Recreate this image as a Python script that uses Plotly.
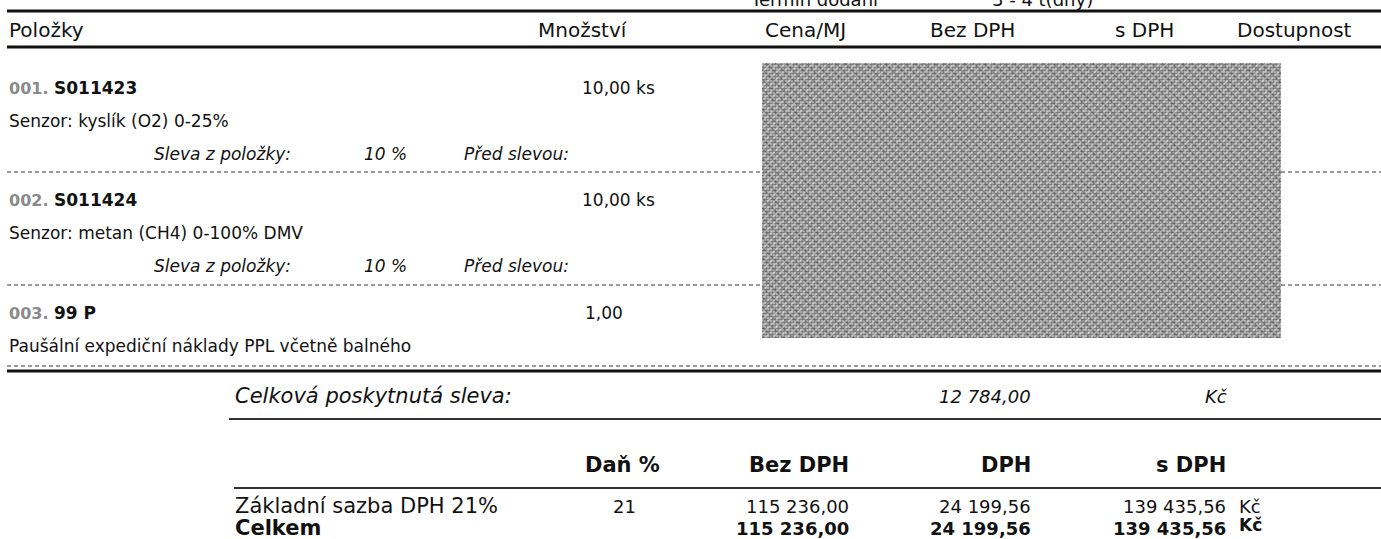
import plotly.graph_objects as go

# ---------------- data ----------------
header_cols = ["Položky", "Množství", "Cena/MJ", "Bez DPH", "s DPH", "Dostupnost"]
delivery_label = "Termín dodání"
delivery_value = "3 - 4 t(dny)"

item_nums = ["001.", "002.", "003."]
item_codes = ["S011423", "S011424", "99 P"]
item_qty = [10.00, 10.00, 1.00]
item_units = ["ks", "ks", ""]
item_desc = ["Senzor: kyslík (O2) 0-25%",
             "Senzor: metan (CH4) 0-100% DMV",
             "Paušální expediční náklady PPL včetně balného"]
item_discount_pct = [10, 10, None]

total_discount = 12784.00
currency = "Kč"

vat_headers = ["Daň %", "Bez DPH", "DPH", "s DPH"]
vat_label = "Základní sazba DPH 21%"
vat_rate = 21
vat_base = [115236.00]
vat_tax = [24199.56]
vat_total = [139435.56]
sum_label = "Celkem"


def czk(v):
    s = f"{v:,.2f}"
    return s.replace(",", " ").replace(".", ",")


# ---------------- layout constants ----------------
W, H = 1381, 539
FONT = "DejaVu Sans"
BLACK = "#111111"
GRAY = "#8a8a8a"

fig = go.Figure()
ann = []
shapes = []


def text(x, y, t, size=17, anchor="left", bold=False, italic=False, color=BLACK, yanchor="middle"):
    s = t
    if bold:
        s = f"<b>{s}</b>"
    if italic:
        s = f"<i>{s}</i>"
    ann.append(dict(x=x, y=y, xref="x", yref="y", text=s, showarrow=False,
                    xanchor=anchor, yanchor=yanchor,
                    font=dict(family=FONT, size=size, color=color)))


def hline(x0, x1, y, width=1, color=BLACK, dash="solid"):
    shapes.append(dict(type="line", xref="x", yref="y", x0=x0, x1=x1, y0=y, y1=y,
                       line=dict(color=color, width=width, dash=dash), layer="below"))


# top partially visible text
text(748, 12, delivery_label, size=18, yanchor="bottom")
text(990, 12, delivery_value, size=18, yanchor="bottom")

# header
hline(7, W, 11, width=3)
hline(7, W, 47, width=3)
head_x = [7, 583, 805, 972, 1144, 1294]
head_anchor = ["left", "center", "center", "center", "center", "center"]
for t, x, a in zip(header_cols, head_x, head_anchor):
    text(x, 30, t, size=20, anchor=a)

# items
row_y = [88, 200, 313]
for i in range(len(item_codes)):
    y = row_y[i]
    text(7, y, item_nums[i], size=16, bold=True, color=GRAY)
    text(52, y, item_codes[i], size=17, bold=True)
    q = czk(item_qty[i]) + (" " + item_units[i] if item_units[i] else "")
    text(657 if item_units[i] else 625, y, q, size=17, anchor="right")
    text(7, y + 33, item_desc[i], size=17)
    if item_discount_pct[i] is not None:
        text(152, y + 66, "Sleva z položky:", size=17, italic=True)
        text(362, y + 66, f"{item_discount_pct[i]} %", size=17, italic=True)
        text(462, y + 66, "Před slevou:", size=17, italic=True)

# separators
for y in [172, 285, 366]:
    hline(7, W, y, width=1, color="#333", dash="4px,3px")
hline(7, W, 371, width=3)

# redaction block (noise texture)
rx0, rx1, ry0, ry1 = 762, 1281, 63, 338
box_x = [rx0, rx1, rx1, rx0, rx0]
box_y = [ry0, ry0, ry1, ry1, ry0]
fig.add_trace(go.Scatter(x=box_x, y=box_y, mode="lines", fill="toself", line=dict(width=0),
                         fillcolor="#c2c2c2",
                         fillpattern=dict(shape=".", fgcolor="#111111", bgcolor="#c8c8c8",
                                          size=3, solidity=0.6),
                         hoverinfo="skip", showlegend=False))
fig.add_trace(go.Scatter(x=box_x, y=box_y, mode="lines", fill="toself", line=dict(width=0),
                         fillcolor="rgba(0,0,0,0)",
                         fillpattern=dict(shape="/", fgcolor="#ffffff", fgopacity=0.45,
                                          bgcolor="rgba(0,0,0,0)", size=5, solidity=0.3),
                         hoverinfo="skip", showlegend=False))
fig.add_trace(go.Scatter(x=box_x, y=box_y, mode="lines", fill="toself", line=dict(width=0),
                         fillcolor="rgba(0,0,0,0)",
                         fillpattern=dict(shape="\\", fgcolor="#000000", fgopacity=0.25,
                                          bgcolor="rgba(0,0,0,0)", size=7, solidity=0.2),
                         hoverinfo="skip", showlegend=False))

# summary
text(233, 396, "Celková poskytnutá sleva:", size=21, italic=True)
text(1033, 396, czk(total_discount), size=18, italic=True, anchor="right")
text(1203, 396, currency, size=18, italic=True)
hline(229, W, 419, width=2, color="#333")

vat_head_x = [622, 851, 1033, 1228]
vat_head_anchor = ["center", "right", "right", "right"]
for t, x, a in zip(vat_headers, vat_head_x, vat_head_anchor):
    text(x, 465, t, size=21, bold=True, anchor=a)
hline(234, W, 488, width=2, color="#333")

text(233, 506, vat_label, size=21)
text(624, 506, str(vat_rate), size=18, anchor="center")
text(851, 506, czk(vat_base[0]), size=18, anchor="right")
text(1033, 506, czk(vat_tax[0]), size=18, anchor="right")
text(1228, 506, czk(vat_total[0]), size=18, anchor="right")
text(1237, 506, currency, size=18)

text(233, 528, sum_label, size=21, bold=True)
text(851, 528, czk(sum(vat_base)), size=18, bold=True, anchor="right")
text(1033, 528, czk(sum(vat_tax)), size=18, bold=True, anchor="right")
text(1228, 528, czk(sum(vat_total)), size=18, bold=True, anchor="right")
text(1237, 525, currency, size=17, bold=True)

fig.update_layout(
    width=W, height=H,
    margin=dict(l=0, r=0, t=0, b=0),
    paper_bgcolor="white", plot_bgcolor="white",
    xaxis=dict(range=[0, W], visible=False, fixedrange=True),
    yaxis=dict(range=[H, 0], visible=False, fixedrange=True),
    annotations=ann, shapes=shapes, showlegend=False,
)
fig.write_html("out.html", config={"displayModeBar": False},
               post_script="document.body.style.margin='0';document.body.style.overflow='hidden';")
